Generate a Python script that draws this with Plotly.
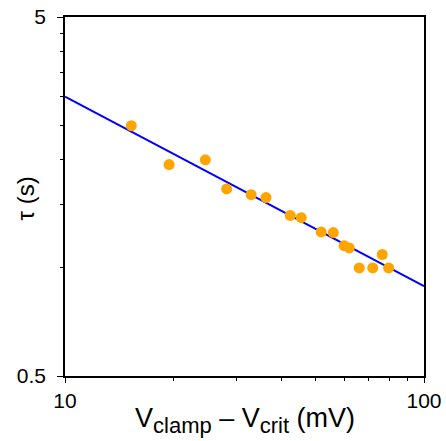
import plotly.graph_objects as go

# data
v_diff = [15.3, 19.5, 24.6, 28.2, 33.0, 36.3, 42.4, 45.5, 51.7, 55.9,
          59.9, 61.9, 76.5, 66.0, 72.0, 79.7]
tau = [2.49, 1.94, 2.00, 1.66, 1.60, 1.57, 1.40, 1.38, 1.26, 1.255,
       1.153, 1.137, 1.09, 1.00, 1.00, 1.00]
fit_x = [10, 100]
fit_y = [3.0, 0.89]

x_ticks = [10, 100]
x_minor = [20, 30, 40, 50, 60, 70, 80, 90]
y_ticks = [0.5, 5]
y_minor = [1, 1.5, 2, 2.5, 3, 3.5, 4, 4.5]

x_title = ("V<sub><span style='font-size:22px'>clamp</span></sub> \u2013 "
           "V<sub><span style='font-size:22px'>crit</span></sub> (mV)")
y_title = "\u03c4 (s)"

font_family = "Liberation Sans, Arial, Helvetica, sans-serif"

fig = go.Figure()
fig.add_trace(go.Scatter(x=fit_x, y=fit_y, mode="lines",
                         line=dict(color="#0000FF", width=2), showlegend=False))
fig.add_trace(go.Scatter(x=v_diff, y=tau, mode="markers",
                         marker=dict(color="#FFA500", size=11), showlegend=False))

fig.update_layout(
    width=446, height=441,
    margin=dict(l=65, r=22, t=17, b=65),
    plot_bgcolor="white", paper_bgcolor="white",
    font=dict(family=font_family, color="black", size=21),
    xaxis=dict(
        type="log", range=[1, 2], automargin=False,
        tickmode="array", tickvals=x_ticks, ticktext=[str(v) for v in x_ticks],
        ticks="outside", ticklen=5, tickwidth=1.2, tickcolor="black",
        minor=dict(tickmode="array", tickvals=x_minor, ticks="outside",
                   ticklen=3, tickcolor="black", tickwidth=1),
        showline=True, linecolor="black", linewidth=1.5, mirror=True,
        showgrid=False, zeroline=False, ticklabeloverflow="allow",
        tickfont=dict(size=21),
    ),
    yaxis=dict(
        type="log", range=[-0.30103, 0.69897], automargin=False,
        tickmode="array", tickvals=y_ticks, ticktext=["0.5", "5"],
        ticks="outside", ticklen=6, tickwidth=1.2, tickcolor="black",
        minor=dict(tickmode="array", tickvals=y_minor, ticks="outside",
                   ticklen=3, tickcolor="black", tickwidth=1),
        showline=True, linecolor="black", linewidth=1.5, mirror=True,
        showgrid=False, zeroline=False, ticklabelstandoff=7,
        ticklabeloverflow="allow",
        tickfont=dict(size=21),
    ),
    annotations=[
        dict(text=x_title, xref="paper", yref="paper", x=0.5, y=0,
             xanchor="center", yanchor="top", yshift=-25, showarrow=False,
             font=dict(size=27)),
        dict(text=y_title, xref="paper", yref="paper", x=0, y=0.5,
             xanchor="center", yanchor="middle", xshift=-40, yshift=-2,
             textangle=-90, showarrow=False, font=dict(size=24)),
    ],
)

fig.write_html(
    "out.html",
    config={"displayModeBar": False},
    post_script="document.body.style.margin='0';"
                "document.body.style.overflow='hidden';",
)
